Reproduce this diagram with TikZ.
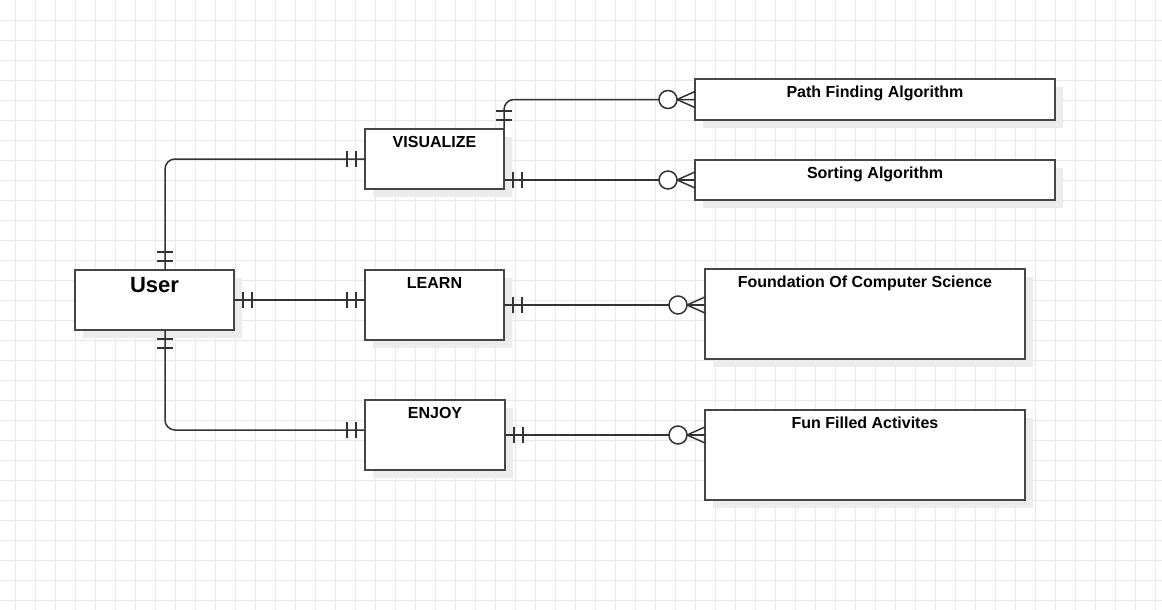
\documentclass[tikz,border=0pt]{standalone}
\usepackage{fontspec}
\setmainfont{Liberation Sans}
\usetikzlibrary{shadows,calc}
\definecolor{gridc}{RGB}{232,232,232}
\definecolor{shadc}{RGB}{236,236,236}
\definecolor{boxc}{RGB}{70,70,70}
\definecolor{connc}{RGB}{51,51,51}
\tikzset{
  entity/.style={rectangle, draw=boxc, line width=1.8pt, fill=white, inner sep=0pt, outer sep=0pt,
    anchor=north west, general shadow={fill=shadc, shadow xshift=8pt, shadow yshift=-8pt}},
  lbl/.style={font=\bfseries\fontsize{16}{19}\selectfont, anchor=base, yshift=-18.5pt, inner sep=0pt},
  biglbl/.style={font=\bfseries\fontsize{22}{26}\selectfont, anchor=base, yshift=-22.7pt, inner sep=0pt},
  conn/.style={draw=connc, line width=1.5pt},
  mandone/.pic={\draw[conn] (9,-8) -- (9,8) (18,-8) -- (18,8);},
  zeromany/.pic={\draw[conn] (0,-8) -- (18,0) -- (0,8);
                 \draw[conn, fill=white] (27,0) circle[radius=9pt];}
}
\begin{document}
\begin{tikzpicture}[x=1pt,y=-1pt]
\useasboundingbox (0,0) rectangle (1162,610);
\fill[white] (0,0) rectangle (1162,610);
\foreach \gx in {15,35,...,1155} \draw[gridc, line width=0.8pt] (\gx,0) -- (\gx,610);
\foreach \gy in {20,40,...,600} \draw[gridc, line width=0.8pt] (0,\gy) -- (1162,\gy);

% entities
\node[entity, minimum width=159pt, minimum height=60pt, label={[biglbl]north:User}] (user) at (75,270) {};
\node[entity, minimum width=139pt, minimum height=60pt, label={[lbl]north:VISUALIZE}] (vis) at (365,129) {};
\node[entity, minimum width=139pt, minimum height=70pt, label={[lbl]north:LEARN}] (learn) at (365,270) {};
\node[entity, minimum width=140pt, minimum height=70pt, label={[lbl]north:ENJOY}] (enjoy) at (365,400) {};
\node[entity, minimum width=360pt, minimum height=41pt, label={[lbl]north:Path Finding Algorithm}] (path) at (695,79) {};
\node[entity, minimum width=360pt, minimum height=40pt, label={[lbl]north:Sorting Algorithm}] (sort) at (695,160) {};
\node[entity, minimum width=320pt, minimum height=90pt, label={[lbl]north:Foundation Of Computer Science}] (found) at (705,269) {};
\node[entity, minimum width=320pt, minimum height=90pt, label={[lbl]north:Fun Filled Activites}] (fun) at (705,410) {};

\coordinate (ut) at ([xshift=10.5pt]user.north);
\coordinate (ub) at ([xshift=10.5pt]user.south);
\coordinate (ein) at ([yshift=5pt]enjoy.west);

% connectors
\draw[conn, rounded corners=10pt] (ut) |- (vis.west);
\draw[conn] (user.east) -- (user.east -| learn.west);
\draw[conn, rounded corners=10pt] (ub) |- (ein);
\draw[conn, rounded corners=10pt] (vis.north east) |- (path.west);
\draw[conn] (sort.west -| vis.east) -- (sort.west);
\draw[conn] (learn.east) -- (learn.east -| found.west);
\draw[conn] (enjoy.east) -- (enjoy.east -| fun.west);

% end marks
\pic[rotate=90] at (ut) {mandone};
\pic[rotate=180] at (vis.west) {mandone};
\pic at (user.east) {mandone};
\pic[rotate=180] at (user.east -| learn.west) {mandone};
\pic[rotate=-90] at (ub) {mandone};
\pic[rotate=180] at (ein) {mandone};
\pic[rotate=90] at (vis.north east) {mandone};
\pic at (sort.west -| vis.east) {mandone};
\pic at (learn.east) {mandone};
\pic at (enjoy.east) {mandone};
\pic[rotate=180] at (path.west) {zeromany};
\pic[rotate=180] at (sort.west) {zeromany};
\pic[rotate=180] at (learn.east -| found.west) {zeromany};
\pic[rotate=180] at (enjoy.east -| fun.west) {zeromany};
\end{tikzpicture}
\end{document}
